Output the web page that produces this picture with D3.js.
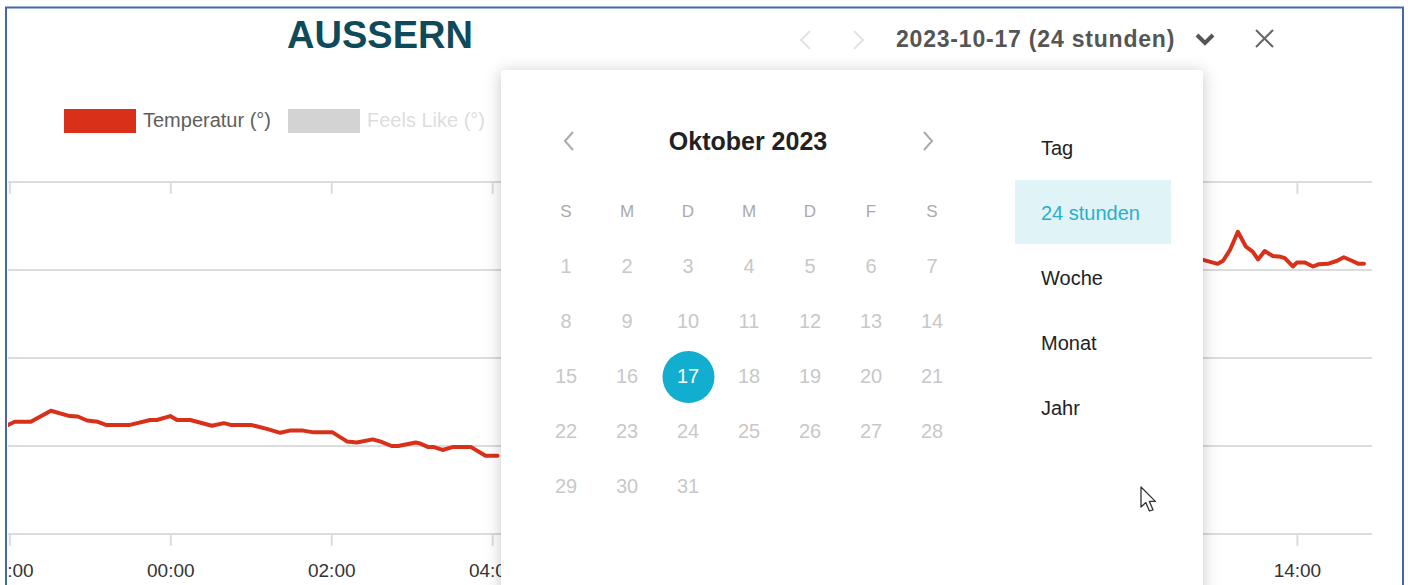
<!DOCTYPE html>
<html><head><meta charset="utf-8">
<script src="https://cdn.jsdelivr.net/npm/d3@7"></script>
<style>html,body{margin:0;padding:0;background:#fff;overflow:hidden}</style>
</head><body><svg id="c" width="1408" height="585"></svg>
<script>
// ---------- data ----------
const chartTitle = "AUSSERN";
const seriesNames = ["Temperatur (°)", "Feels Like (°)"];
const seriesColors = ["#d9301a", "#d3d3d3"];
const legendTextColors = ["#5e5e5e", "#dddddd"];
const dateLabel = "2023-10-17 (24 stunden)";
const monthLabel = "Oktober 2023";
const weekdayLabels = ["S", "M", "D", "M", "D", "F", "S"];
const daysInMonth = 31;
const firstWeekday = 0;
const selectedDay = 17;
const rangeOptions = ["Tag", "24 stunden", "Woche", "Monat", "Jahr"];
const selectedRange = "24 stunden";
const yTickValues = [4, 6, 8, 10, 12];
const xDomain = ["2023-10-16T21:59", "2023-10-17T14:56"];
const xTickTimes = ["2023-10-16T22:00","2023-10-17T00:00","2023-10-17T02:00","2023-10-17T04:00",
  "2023-10-17T06:00","2023-10-17T08:00","2023-10-17T10:00","2023-10-17T12:00","2023-10-17T14:00"];
// temperature readings (null = not visible / gap)
const tempTimes = ["2023-10-16T21:59","2023-10-16T22:04","2023-10-16T22:16","2023-10-16T22:31","2023-10-16T22:45",
  "2023-10-16T22:51","2023-10-16T22:58","2023-10-16T23:06","2023-10-16T23:12","2023-10-16T23:30",
  "2023-10-16T23:45","2023-10-16T23:50","2023-10-17T00:00","2023-10-17T00:05","2023-10-17T00:15",
  "2023-10-17T00:31","2023-10-17T00:40","2023-10-17T00:45","2023-10-17T01:00","2023-10-17T01:12",
  "2023-10-17T01:22","2023-10-17T01:29","2023-10-17T01:39","2023-10-17T01:47","2023-10-17T02:01",
  "2023-10-17T02:12","2023-10-17T02:19","2023-10-17T02:31","2023-10-17T02:37","2023-10-17T02:45",
  "2023-10-17T02:50","2023-10-17T03:03","2023-10-17T03:06","2023-10-17T03:12","2023-10-17T03:16",
  "2023-10-17T03:23","2023-10-17T03:31","2023-10-17T03:44","2023-10-17T03:55","2023-10-17T04:04",
  "2023-10-17T08:00",
  "2023-10-17T12:50","2023-10-17T13:01","2023-10-17T13:05","2023-10-17T13:10","2023-10-17T13:16",
  "2023-10-17T13:22","2023-10-17T13:27","2023-10-17T13:31","2023-10-17T13:36","2023-10-17T13:42",
  "2023-10-17T13:48","2023-10-17T13:51","2023-10-17T13:57","2023-10-17T14:00","2023-10-17T14:06",
  "2023-10-17T14:12","2023-10-17T14:16","2023-10-17T14:23","2023-10-17T14:30","2023-10-17T14:35",
  "2023-10-17T14:41","2023-10-17T14:46","2023-10-17T14:50"];
const tempValues = [6.48,6.55,6.55,6.80,6.68,
  6.67,6.58,6.55,6.48,6.48,
  6.59,6.59,6.68,6.59,6.59,
  6.46,6.52,6.48,6.48,6.39,
  6.30,6.35,6.35,6.31,6.31,
  6.10,6.08,6.15,6.10,6.00,
  6.00,6.08,6.06,5.98,5.98,
  5.91,5.98,5.98,5.78,5.78,
  null,
  10.23,10.14,10.21,10.45,10.87,
  10.53,10.42,10.24,10.43,10.32,
  10.30,10.27,10.08,10.17,10.17,
  10.08,10.13,10.14,10.21,10.29,
  10.21,10.14,10.14];

// ---------- drawing ----------
const svg = d3.select("#c");
const font = "'Liberation Sans', Arial, sans-serif";
const parse = d3.timeParse("%Y-%m-%dT%H:%M");

const defs = svg.append("defs");
defs.append("clipPath").attr("id", "frameClip").append("rect")
  .attr("x", 8).attr("y", 8).attr("width", 1394).attr("height", 600);
const sh = defs.append("filter").attr("id", "shadow")
  .attr("x", "-10%").attr("y", "-10%").attr("width", "120%").attr("height", "130%");
sh.append("feDropShadow").attr("dx", 0).attr("dy", 2).attr("stdDeviation", 8)
  .attr("flood-color", "#000").attr("flood-opacity", 0.22);

const x = d3.scaleTime().domain(xDomain.map(parse)).range([8, 1372]);
const y = d3.scaleLinear().domain([4, 12]).range([534, 182]);

const g = svg.append("g").attr("clip-path", "url(#frameClip)");

// gridlines
g.selectAll("line.grid").data(yTickValues).join("line")
  .attr("x1", 8).attr("x2", 1372)
  .attr("y1", d => y(d)).attr("y2", d => y(d))
  .attr("stroke", "#dcdcdc").attr("stroke-width", 2);

// bottom axis
const xb = g.append("g").attr("transform", `translate(0,${y(4)})`)
  .call(d3.axisBottom(x).tickValues(xTickTimes.map(parse)).tickSize(12)
    .tickFormat(d3.timeFormat("%H:%M")));
xb.select(".domain").remove();
xb.selectAll(".tick line").attr("stroke", "#dcdcdc").attr("stroke-width", 2);
xb.selectAll(".tick text").attr("y", 43).attr("dy", 0)
  .attr("font-family", font).attr("font-size", 19).attr("fill", "#333");

// top ticks
const xt = g.append("g").attr("transform", `translate(0,${y(12)})`)
  .call(d3.axisTop(x).tickValues(xTickTimes.map(parse)).tickSize(-12).tickFormat(""));
xt.select(".domain").remove();
xt.selectAll(".tick line").attr("stroke", "#dcdcdc").attr("stroke-width", 2);

// line
const pts = tempTimes.map((t, i) => ({ t: parse(t), v: tempValues[i] }));
g.append("path").datum(pts)
  .attr("d", d3.line().defined(d => d.v != null).x(d => x(d.t)).y(d => y(d.v)))
  .attr("fill", "none").attr("stroke", seriesColors[0]).attr("stroke-width", 4)
  .attr("stroke-linejoin", "round").attr("stroke-linecap", "round");

// title
svg.append("text").attr("x", 380).attr("y", 48).attr("text-anchor", "middle")
  .attr("font-family", font).attr("font-weight", "bold").attr("font-size", 38)
  .attr("fill", "#0f4a5b").text(chartTitle);

// legend
const legendX = [64, 288];
seriesNames.forEach((n, i) => {
  svg.append("rect").attr("x", legendX[i]).attr("y", 109).attr("width", 72).attr("height", 24)
    .attr("fill", seriesColors[i]);
  svg.append("text").attr("x", legendX[i] + 79).attr("y", 127)
    .attr("font-family", font).attr("font-size", 20).attr("fill", legendTextColors[i]).text(n);
});

// header controls
svg.append("polyline").attr("points", "810,31 801,40 810,49").attr("fill", "none")
  .attr("stroke", "#e2e2e2").attr("stroke-width", 2);
svg.append("polyline").attr("points", "854,31 863,40 854,49").attr("fill", "none")
  .attr("stroke", "#e2e2e2").attr("stroke-width", 2);
svg.append("text").attr("x", 896).attr("y", 47)
  .attr("font-family", font).attr("font-weight", "bold").attr("font-size", 23)
  .attr("letter-spacing", 0.8).attr("fill", "#555").text(dateLabel);
svg.append("polyline").attr("points", "1197,35 1205,43 1213,35").attr("fill", "none")
  .attr("stroke", "#555").attr("stroke-width", 4);
svg.append("path").attr("d", "M1256,30L1273,47M1273,30L1256,47")
  .attr("stroke", "#666").attr("stroke-width", 2);

// panel
svg.append("rect").attr("x", 501).attr("y", 70).attr("width", 702).attr("height", 540)
  .attr("rx", 4).attr("fill", "#fff").attr("filter", "url(#shadow)");

// calendar header
svg.append("polyline").attr("points", "573,132 565,141 573,150").attr("fill", "none")
  .attr("stroke", "#aaa").attr("stroke-width", 2);
svg.append("polyline").attr("points", "924,132 932,141 924,150").attr("fill", "none")
  .attr("stroke", "#aaa").attr("stroke-width", 2);
svg.append("text").attr("x", 748).attr("y", 150).attr("text-anchor", "middle")
  .attr("font-family", font).attr("font-weight", "bold").attr("font-size", 25)
  .attr("fill", "#222").text(monthLabel);

const colX = d => 566 + d * 61;
svg.selectAll("text.wd").data(weekdayLabels).join("text")
  .attr("x", (d, i) => colX(i)).attr("y", 217).attr("text-anchor", "middle")
  .attr("font-family", font).attr("font-size", 17).attr("fill", "#aaa").text(d => d);

const days = d3.range(1, daysInMonth + 1);
const cellPos = d => { const k = d - 1 + firstWeekday; return { cx: colX(k % 7), row: Math.floor(k / 7) }; };
svg.append("circle").attr("cx", cellPos(selectedDay).cx + 0.5)
  .attr("cy", 266 + cellPos(selectedDay).row * 55 + 1).attr("r", 26).attr("fill", "#12aed0");
svg.selectAll("text.day").data(days).join("text")
  .attr("x", d => cellPos(d).cx).attr("y", d => 273 + cellPos(d).row * 55)
  .attr("text-anchor", "middle").attr("font-family", font).attr("font-size", 20)
  .attr("fill", d => d === selectedDay ? "#fff" : "#c8c8c8").text(d => d);

// range menu
const selIdx = rangeOptions.indexOf(selectedRange);
svg.append("rect").attr("x", 1015).attr("y", 180 + (selIdx - 1) * 65).attr("width", 156).attr("height", 64)
  .attr("fill", "#e0f4f8");
svg.selectAll("text.menu").data(rangeOptions).join("text")
  .attr("x", 1041).attr("y", (d, i) => 155 + i * 65)
  .attr("font-family", font).attr("font-size", 20)
  .attr("fill", d => d === selectedRange ? "#2aaecf" : "#222").text(d => d);

// mouse cursor
svg.append("path")
  .attr("d", "M0,0L0,20L4.8,15.6L8.4,24L12,22.8L8.4,14.4L14.4,14.4Z")
  .attr("transform", "translate(1141,487)")
  .attr("fill", "#fff").attr("stroke", "#333").attr("stroke-width", 1.3).attr("stroke-linejoin", "round");

// frame
svg.append("path").attr("d", "M6,600L6,7.5L1403,7.5L1403,600")
  .attr("fill", "none").attr("stroke", "#4468b0").attr("stroke-width", 2);
</script></body></html>
